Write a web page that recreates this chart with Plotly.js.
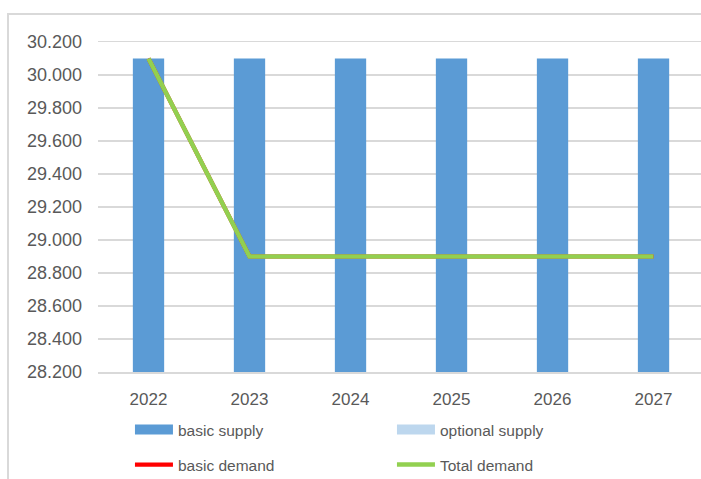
<!DOCTYPE html>
<html>
<head>
<meta charset="utf-8">
<script src="https://cdn.plot.ly/plotly-3.0.1.min.js"></script>
<style>
html,body{margin:0;padding:0;background:#fff;}
#wrap{position:relative;width:701px;height:479px;overflow:hidden;}
#chart{position:absolute;left:0;top:0;width:701px;height:479px;}
#frame{position:absolute;left:7px;top:13px;width:900px;height:700px;border-left:2px solid #d9d9d9;border-top:2px solid #d9d9d9;pointer-events:none;}
</style>
</head>
<body>
<div id="wrap"><div id="chart"></div><div id="frame"></div></div>
<script>
// ---- data ----
const years = ['2022', '2023', '2024', '2025', '2026', '2027'];
const basicSupply = [30100, 30100, 30100, 30100, 30100, 30100];
const optionalSupply = [0, 0, 0, 0, 0, 0];
const basicDemand = [30100, 28900, 28900, 28900, 28900, 28900];
const totalDemand = [30100, 28900, 28900, 28900, 28900, 28900];
const seriesNames = ['basic supply', 'optional supply', 'basic demand', 'Total demand'];

const cBasicSupply = '#5B9BD5';
const cOptSupply = '#BDD7EE';
const cBasicDemand = '#FF0000';
const cTotalDemand = '#92D050';
const txt = '#595959';
const font = 'Liberation Sans, Arial, sans-serif';

const traces = [
  {type:'bar', x:years, y:basicSupply, name:seriesNames[0], marker:{color:cBasicSupply}, width:0.31, showlegend:false},
  {type:'bar', x:years, y:optionalSupply, name:seriesNames[1], marker:{color:cOptSupply}, width:0.31, showlegend:false, base:basicSupply},
  {type:'scatter', mode:'lines', x:years, y:basicDemand, name:seriesNames[2], line:{color:cBasicDemand, width:4.2}, legend:'legend2'},
  {type:'scatter', mode:'lines', x:years, y:totalDemand, name:seriesNames[3], line:{color:cTotalDemand, width:4.5}, legend:'legend2'},
  // legend swatches for the bar series
  {type:'scatter', mode:'lines', x:[null], y:[null], name:seriesNames[0], line:{color:cBasicSupply, width:10}, legend:'legend', hoverinfo:'skip'},
  {type:'scatter', mode:'lines', x:[null], y:[null], name:seriesNames[1], line:{color:cOptSupply, width:10}, legend:'legend', hoverinfo:'skip'}
];

const legendCommon = {
  orientation:'h', x:0.053, xanchor:'left', yanchor:'middle',
  font:{family:font, size:15.5, color:txt},
  entrywidth:209, entrywidthmode:'pixels', itemwidth:38,
  bgcolor:'rgba(0,0,0,0)', traceorder:'normal', itemclick:false
};

const layout = {
  width:701, height:479,
  margin:{l:98, r:0, t:42, b:107, pad:0, autoexpand:false},
  paper_bgcolor:'#fff', plot_bgcolor:'#fff',
  separators:',.',
  barmode:'overlay',
  showlegend:true,
  xaxis:{
    type:'category', range:[-0.5, 5.47], showgrid:false, zeroline:false,
    showline:true, linecolor:'#d9d9d9', linewidth:1.5, mirror:true,
    ticks:'', ticklabelstandoff:11, automargin:false,
    tickfont:{family:font, size:17, color:txt}, fixedrange:true
  },
  yaxis:{
    range:[28200, 30200], tick0:28200, dtick:200, tickformat:',d',
    showgrid:true, gridcolor:'#d9d9d9', gridwidth:1.5, zeroline:false, showline:false,
    ticks:'', ticklabelstandoff:15, automargin:false,
    tickfont:{family:font, size:18, color:txt}, fixedrange:true
  },
  legend:Object.assign({}, legendCommon, {y:-0.1758}),
  legend2:Object.assign({}, legendCommon, {y:-0.2818})
};

Plotly.newPlot('chart', traces, layout, {displayModeBar:false, staticPlot:true});
</script>
</body>
</html>
